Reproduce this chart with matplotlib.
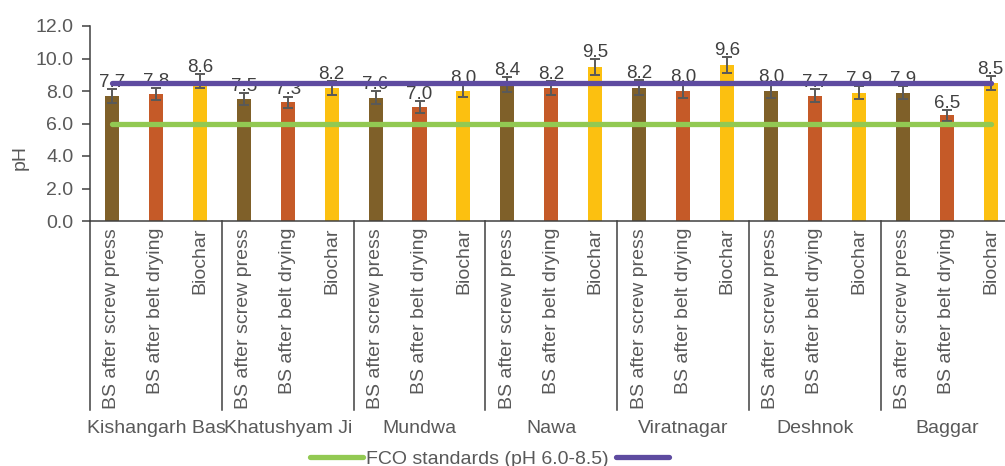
import matplotlib
matplotlib.use("Agg")
import matplotlib.pyplot as plt
from matplotlib import font_manager
import numpy as np

# ---------------- data ----------------
sites = ["Kishangarh Bas", "Khatushyam Ji", "Mundwa", "Nawa", "Viratnagar", "Deshnok", "Baggar"]
samples = ["BS after screw press", "BS after belt drying", "Biochar"]
screw_press = [7.7, 7.5, 7.6, 8.4, 8.2, 8.0, 7.9]
belt_drying = [7.8, 7.3, 7.0, 8.2, 8.0, 7.7, 6.5]
biochar = [8.6, 8.2, 8.0, 9.5, 9.6, 7.9, 8.5]
screw_err = [0.43, 0.39, 0.42, 0.45, 0.45, 0.41, 0.41]
belt_err = [0.37, 0.36, 0.38, 0.43, 0.41, 0.40, 0.33]
biochar_err = [0.44, 0.42, 0.38, 0.49, 0.49, 0.40, 0.44]
fco_low = 6.0
fco_high = 8.5
legend_label = "FCO standards (pH 6.0-8.5)"
yticks = [0, 2, 4, 6, 8, 10, 12]

# ---------------- style ----------------
names = {f.name for f in font_manager.fontManager.ttflist}
base = "Liberation Sans" if "Liberation Sans" in names else "DejaVu Sans"
narrow = "Liberation Sans Narrow" if "Liberation Sans Narrow" in names else base
nsize = 16.5 if narrow != base else 14

colors = ["#7F6029", "#C55A28", "#FCC010"]
c_green = "#92C952"
c_purple = "#5E4BA0"
c_text = "#595959"
c_axis = "#404040"

W, H = 1005, 466
fig = plt.figure(figsize=(W / 100, H / 100), dpi=100)
ax_left, ax_right = 90, 1012.6
ax_top, ax_bot = 26, 221
ax = fig.add_axes([ax_left / W, (H - ax_bot) / H, (ax_right - ax_left) / W, (ax_bot - ax_top) / H])

series = [screw_press, belt_drying, biochar]
errs = [screw_err, belt_err, biochar_err]
nsub = len(samples)
ngroups = len(sites)

all_x = []
for i, (vals, err) in enumerate(zip(series, errs)):
    xs = np.arange(ngroups) * nsub + i + 0.5
    all_x.append(xs)
    ax.bar(xs, vals, width=0.32, color=colors[i], zorder=2)
    ax.errorbar(xs, vals, yerr=err, fmt="none", ecolor=c_text, elinewidth=1.4,
                capsize=3.6, capthick=1.4, zorder=3)
    for x, v, e in zip(xs, vals, err):
        ax.annotate(f"{v:.1f}", (x, v + e), xytext=(0, 1.5), textcoords="offset points",
                    ha="center", va="baseline", fontsize=13.5, color="#404040",
                    family=base, zorder=3)

xline = np.sort(np.concatenate(all_x))
green_line, = ax.plot(xline, [fco_low] * len(xline), color=c_green, lw=3.8,
                      solid_capstyle="round", zorder=5)
purple_line, = ax.plot(xline, [fco_high] * len(xline), color=c_purple, lw=3.8,
                       solid_capstyle="round", zorder=5)

ax.set_xlim(0, ngroups * nsub)
ax.set_ylim(0, 12)
ax.set_yticks(yticks)
ax.set_yticklabels([f"{t:.1f}" for t in yticks], family=base, fontsize=14, color=c_text)
ax.tick_params(axis="y", direction="out", length=5.8, width=1.1, color=c_axis, pad=6)
ax.set_xticks([])
for s in ["top", "right"]:
    ax.spines[s].set_visible(False)
for s in ["left", "bottom"]:
    ax.spines[s].set_color(c_axis)
    ax.spines[s].set_linewidth(1.1)

# multi-level category axis
axh = ax_bot - ax_top
trans = ax.get_xaxis_transform()
div_bottom = -(410 - ax_bot) / axh
for g in range(ngroups + 1):
    ax.plot([g * nsub, g * nsub], [0, div_bottom], transform=trans, color=c_axis,
            lw=1.1, clip_on=False, zorder=1)
for g in range(ngroups):
    for i in range(nsub):
        ax.text(g * nsub + i + 0.5, -(228 - ax_bot) / axh, samples[i], transform=trans,
                rotation=90, ha="center", va="top", fontsize=14, color=c_text, family=base)
    ax.text(g * nsub + nsub / 2, -(428 - ax_bot) / axh, sites[g], transform=trans,
            ha="center", va="center", fontsize=nsize, color=c_text, family=narrow)

fig.text(20 / W, (H - 157) / H, "pH", rotation=90, ha="center", va="center",
         fontsize=14, color=c_text, family=base)

leg = fig.legend([green_line, purple_line], [legend_label, ""], loc="center",
                 bbox_to_anchor=(491 / W, (H - 459) / H), ncol=2, frameon=False,
                 borderpad=0, handlelength=2.7, handletextpad=0.15, columnspacing=0.4,
                 prop={"family": narrow, "size": nsize})
for t in leg.get_texts():
    t.set_color(c_text)

fig.savefig("out.png", dpi=100)
